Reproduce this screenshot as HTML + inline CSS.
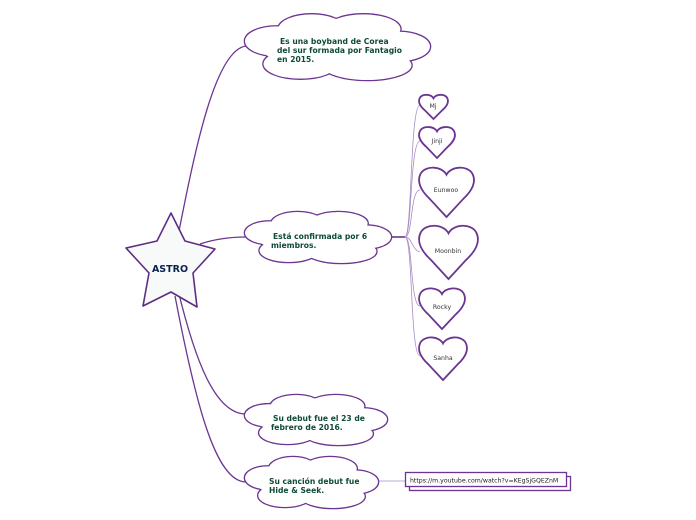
<!DOCTYPE html>
<html><head><meta charset="utf-8"><style>
html,body{margin:0;padding:0;background:#fff;}
svg{display:block;font-family:"DejaVu Sans","Liberation Sans",sans-serif;}
.t{font-size:7.6px;font-weight:bold;fill:#0e4a35;}
.h{font-size:6.2px;fill:#333;}
</style></head><body>
<svg id="s" width="696" height="520" viewBox="0 0 696 520" xmlns="http://www.w3.org/2000/svg">
<g fill="none" stroke="#6b3591" stroke-width="1.3">
<path d="M178,236 C195,150 215,50 246,46"/>
<path d="M200,244 C215,239 230,237 246,237"/>
<path d="M178,290 C195,360 215,414 246,414"/>
<path d="M175,296 C195,400 215,482 246,482"/>
<path d="M392,237 L405,237" stroke-width="1.6"/>
</g>
<g fill="none" stroke="#a88cc4" stroke-width="0.8">
<path d="M405,237 C412,237 410,105 420,105"/>
<path d="M405,237 C412,237 410,141 420,141"/>
<path d="M405,237 C413,237 410,190 420,190"/>
<path d="M405,237 C412,237 412,250 420,252"/>
<path d="M405,237 C413,237 410,306 420,306"/>
<path d="M405,237 C413,237 410,356 420,356"/>
<path d="M379,481 L405,481"/>
</g>
<g id="clouds"></g>
<polygon points="171,213 185,241 215,249 193,273 197,307 171,292 143,306 149,273 126,248 157,241" fill="#f8fafa" stroke="#5e2e82" stroke-width="1.6" stroke-linejoin="round"/>
<text x="170" y="272" text-anchor="middle" font-size="9.5" font-weight="bold" fill="#0b2050">ASTRO</text>
<g id="hearts"></g>
<text class="t" x="280" y="44">Es una boyband de Corea</text>
<text class="t" x="277" y="53">del sur formada por Fantagio</text>
<text class="t" x="277" y="62">en 2015.</text>
<text class="t" x="273" y="239">Está confirmada por 6</text>
<text class="t" x="271" y="248">miembros.</text>
<text class="t" x="273" y="421">Su debut fue el 23 de</text>
<text class="t" x="271" y="430">febrero de 2016.</text>
<text class="t" x="269" y="484">Su canción debut fue</text>
<text class="t" x="269" y="493">Hide &amp; Seek.</text>
<rect x="409.5" y="476.5" width="161" height="14" fill="#fff" stroke="#6b3591" stroke-width="1.3"/>
<rect x="405.5" y="472.5" width="161" height="14" fill="#fff" stroke="#6b3591" stroke-width="1.3"/>
<text x="410" y="482.5" font-size="6.2" fill="#222">https://m.youtube.com/watch?v=KEgSjGQEZnM</text>
<text class="h" x="433" y="108" text-anchor="middle">Mj</text>
<text class="h" x="437" y="143" text-anchor="middle">Jinji</text>
<text class="h" x="446" y="192" text-anchor="middle">Eunwoo</text>
<text class="h" x="448" y="253" text-anchor="middle">Moonbin</text>
<text class="h" x="442" y="309" text-anchor="middle">Rocky</text>
<text class="h" x="443" y="360" text-anchor="middle">Sanha</text>
</svg>
<script>
var NS="http://www.w3.org/2000/svg";
var cg=document.getElementById("clouds");
var lumps=[[0.5,0.5,0.42,0.32],[0.36,0.24,0.18,0.22],[0.64,0.24,0.2,0.22],[0.17,0.42,0.17,0.22],[0.83,0.5,0.17,0.22],[0.3,0.76,0.2,0.22],[0.66,0.78,0.24,0.22]];
function cloud(x,y,w,h){
 [1,0].forEach(function(pass){
  lumps.forEach(function(l){
   var e=document.createElementNS(NS,"ellipse");
   e.setAttribute("cx",x+l[0]*w);e.setAttribute("cy",y+l[1]*h);
   e.setAttribute("rx",l[2]*w);e.setAttribute("ry",l[3]*h);
   e.setAttribute("fill","#fff");
   if(pass){e.setAttribute("stroke","#6b3591");e.setAttribute("stroke-width","2.6");}
   cg.appendChild(e);
  });
 });
}
cloud(245,13,185,67);cloud(245,211,146,52);cloud(245,394,142,51);cloud(245,456,133,52);
var hg=document.getElementById("hearts");
function heart(x,y,w,h){
 var p=document.createElementNS(NS,"path");
 function P(a,b){return (x+a*w).toFixed(1)+","+(y+b*h).toFixed(1);}
 var d="M"+P(0.5,0.17)+" C"+P(0.42,0.0)+" "+P(0.12,-0.02)+" "+P(0.03,0.15)+" C"+P(-0.05,0.32)+" "+P(0.05,0.5)+" "+P(0.2,0.65)+" L"+P(0.5,1)+" L"+P(0.8,0.65)+" C"+P(0.95,0.5)+" "+P(1.05,0.32)+" "+P(0.97,0.15)+" C"+P(0.88,-0.02)+" "+P(0.58,0.0)+" "+P(0.5,0.17)+" Z";
 p.setAttribute("d",d);p.setAttribute("fill","#fff");p.setAttribute("stroke","#6b3591");p.setAttribute("stroke-width","1.8");
 hg.appendChild(p);
}
heart(419,94,29,25);heart(419,126,36,32);heart(419,166,55,51);heart(419,224,59,55);heart(419,287,46,42);heart(419,336,48,44);
</script>
</body></html>
